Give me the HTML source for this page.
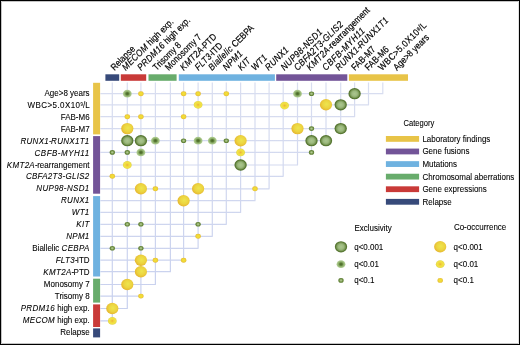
<!DOCTYPE html>
<html><head><meta charset="utf-8"><style>
html,body{margin:0;padding:0;background:#fff;}
body{width:520px;height:345px;overflow:hidden;position:relative;}
svg{position:absolute;left:0;top:0;will-change:transform;}
text{font-family:"Liberation Sans",sans-serif;fill:#000;stroke:#000;stroke-width:0.08px;}
tspan[font-style]{letter-spacing:0.3px;}
text.r{stroke-width:0.17px;}
</style></head><body>
<svg width="520" height="345" viewBox="0 0 520 345">
<defs>
<radialGradient id="gb" cx="50%" cy="50%" r="50%">
 <stop offset="0" stop-color="#abc68f"/><stop offset="0.45" stop-color="#9cb97e"/><stop offset="0.7" stop-color="#7d9c5a"/><stop offset="0.85" stop-color="#5b7b36"/><stop offset="1" stop-color="#4f6f2b"/>
</radialGradient>
<radialGradient id="gm" cx="50%" cy="50%" r="50%">
 <stop offset="0" stop-color="#466526"/><stop offset="0.3" stop-color="#5a7b36"/><stop offset="0.6" stop-color="#8fb16c"/><stop offset="0.85" stop-color="#a8c689"/><stop offset="1" stop-color="#b0cb93"/>
</radialGradient>
<radialGradient id="gs" cx="50%" cy="50%" r="50%">
 <stop offset="0" stop-color="#b2ca92"/><stop offset="0.35" stop-color="#9cb878"/><stop offset="0.65" stop-color="#6e8e42"/><stop offset="1" stop-color="#5c7c33"/>
</radialGradient>
<radialGradient id="yb" cx="55%" cy="45%" r="55%">
 <stop offset="0" stop-color="#eee54e"/><stop offset="0.6" stop-color="#ecd440"/><stop offset="0.9" stop-color="#e8bf34"/><stop offset="1" stop-color="#e4b530"/>
</radialGradient>
<radialGradient id="ym" cx="50%" cy="50%" r="50%">
 <stop offset="0" stop-color="#eeae3a"/><stop offset="0.35" stop-color="#f0d63e"/><stop offset="0.75" stop-color="#f2e444"/><stop offset="1" stop-color="#ddd04c"/>
</radialGradient>
<radialGradient id="ys" cx="50%" cy="50%" r="50%">
 <stop offset="0" stop-color="#f2e23c"/><stop offset="0.6" stop-color="#f0d634"/><stop offset="0.88" stop-color="#e8c436"/><stop offset="1" stop-color="#e0b83a"/>
</radialGradient>
<linearGradient id="gl" gradientUnits="userSpaceOnUse" x1="0" y1="83" x2="0" y2="330">
 <stop offset="0" stop-color="#d9def0"/><stop offset="1" stop-color="#c6cfee"/>
</linearGradient>
</defs>
<path d="M518.5,1V344" stroke="#e2e2e2" stroke-width="1" fill="none"/>
<path d="M518,1.5H1.5V343.5H518" stroke="#c4c4c4" stroke-width="1" fill="none"/>
<rect x="0.5" y="0.5" width="519" height="344" fill="none" stroke="#000" stroke-width="1"/>

<path d="M112.30,82.6V320.90H100.4 M127.30,82.6V308.50H100.4 M140.90,82.6V296.10H100.4 M155.40,82.6V284.50H100.4 M170.40,82.6V271.70H100.4 M183.60,82.6V260.20H100.4 M198.10,82.6V248.30H100.4 M212.30,82.6V236.30H100.4 M226.30,82.6V224.30H100.4 M240.60,82.6V212.40H100.4 M255.00,82.6V200.70H100.4 M269.10,82.6V188.80H100.4 M283.20,82.6V176.30H100.4 M297.50,82.6V165.00H100.4 M311.50,82.6V152.40H100.4 M326.00,82.6V140.70H100.4 M340.70,82.6V128.60H100.4 M354.60,82.6V116.70H100.4 M368.50,82.6V104.80H100.4 M382.80,82.6V93.70H100.4" fill="none" stroke="url(#gl)" stroke-width="1.2" stroke-linejoin="round"/>
<rect x="105.4" y="74.3" width="13.80" height="6.50" fill="#374a7a"/>
<rect x="120.8" y="74.3" width="25.40" height="6.50" fill="#c93a38"/>
<rect x="148.5" y="74.3" width="28.10" height="6.50" fill="#68ac6c"/>
<rect x="178.8" y="74.3" width="96.10" height="6.50" fill="#6fb2e0"/>
<rect x="276.2" y="74.3" width="71.10" height="6.50" fill="#735498"/>
<rect x="348.9" y="74.3" width="59.10" height="6.50" fill="#e8c448"/>
<rect x="93.1" y="82.8" width="7.00" height="51.60" fill="#e8c448"/>
<rect x="93.1" y="136.1" width="7.00" height="57.60" fill="#735498"/>
<rect x="93.1" y="196.1" width="7.00" height="80.40" fill="#6fb2e0"/>
<rect x="93.1" y="278.7" width="7.00" height="23.90" fill="#68ac6c"/>
<rect x="93.1" y="304.4" width="7.00" height="22.60" fill="#c93a38"/>
<rect x="93.1" y="328.4" width="7.00" height="9.00" fill="#374a7a"/>
<ellipse cx="127.30" cy="93.70" rx="4.4" ry="3.9" fill="url(#gm)"/>
<ellipse cx="140.90" cy="93.70" rx="2.75" ry="2.45" fill="url(#ys)"/>
<ellipse cx="183.60" cy="93.70" rx="2.75" ry="2.45" fill="url(#ys)"/>
<ellipse cx="198.10" cy="93.70" rx="2.75" ry="2.45" fill="url(#ys)"/>
<ellipse cx="226.30" cy="93.70" rx="2.75" ry="2.45" fill="url(#ys)"/>
<ellipse cx="297.50" cy="93.70" rx="4.4" ry="3.9" fill="url(#gm)"/>
<ellipse cx="311.50" cy="93.70" rx="2.65" ry="2.3" fill="url(#gs)"/>
<ellipse cx="354.60" cy="93.70" rx="6.15" ry="5.65" fill="url(#gb)"/>
<ellipse cx="198.10" cy="104.80" rx="4.4" ry="3.9" fill="url(#ym)"/>
<ellipse cx="284.60" cy="105.60" rx="4.4" ry="3.9" fill="url(#ym)"/>
<ellipse cx="326.00" cy="104.80" rx="6.1" ry="5.7" fill="url(#yb)"/>
<ellipse cx="340.70" cy="104.80" rx="6.15" ry="5.65" fill="url(#gb)"/>
<ellipse cx="127.30" cy="116.70" rx="2.75" ry="2.45" fill="url(#ys)"/>
<ellipse cx="140.90" cy="116.70" rx="2.75" ry="2.45" fill="url(#ys)"/>
<ellipse cx="183.60" cy="116.70" rx="2.75" ry="2.45" fill="url(#ys)"/>
<ellipse cx="127.30" cy="128.60" rx="6.1" ry="5.7" fill="url(#yb)"/>
<ellipse cx="297.50" cy="128.60" rx="6.1" ry="5.7" fill="url(#yb)"/>
<ellipse cx="311.50" cy="128.60" rx="2.65" ry="2.3" fill="url(#gs)"/>
<ellipse cx="340.70" cy="128.60" rx="6.15" ry="5.65" fill="url(#gb)"/>
<ellipse cx="127.30" cy="140.70" rx="6.15" ry="5.65" fill="url(#gb)"/>
<ellipse cx="140.90" cy="140.70" rx="6.15" ry="5.65" fill="url(#gb)"/>
<ellipse cx="155.40" cy="140.70" rx="4.4" ry="3.9" fill="url(#gm)"/>
<ellipse cx="183.60" cy="140.70" rx="2.65" ry="2.3" fill="url(#gs)"/>
<ellipse cx="198.10" cy="140.70" rx="4.4" ry="3.9" fill="url(#gm)"/>
<ellipse cx="212.30" cy="140.70" rx="4.4" ry="3.9" fill="url(#gm)"/>
<ellipse cx="226.30" cy="140.70" rx="2.65" ry="2.3" fill="url(#gs)"/>
<ellipse cx="240.60" cy="140.70" rx="6.1" ry="5.7" fill="url(#yb)"/>
<ellipse cx="311.50" cy="140.70" rx="6.15" ry="5.65" fill="url(#gb)"/>
<ellipse cx="326.00" cy="140.70" rx="6.15" ry="5.65" fill="url(#gb)"/>
<ellipse cx="112.30" cy="152.40" rx="2.65" ry="2.3" fill="url(#gs)"/>
<ellipse cx="127.30" cy="152.40" rx="2.65" ry="2.3" fill="url(#gs)"/>
<ellipse cx="140.90" cy="152.40" rx="4.4" ry="3.9" fill="url(#gm)"/>
<ellipse cx="240.60" cy="152.40" rx="4.4" ry="3.9" fill="url(#ym)"/>
<ellipse cx="311.50" cy="152.40" rx="2.65" ry="2.3" fill="url(#gs)"/>
<ellipse cx="127.30" cy="165.00" rx="4.4" ry="3.9" fill="url(#ym)"/>
<ellipse cx="240.60" cy="165.00" rx="6.15" ry="5.65" fill="url(#gb)"/>
<ellipse cx="112.30" cy="176.30" rx="2.75" ry="2.45" fill="url(#ys)"/>
<ellipse cx="140.90" cy="188.80" rx="6.1" ry="5.7" fill="url(#yb)"/>
<ellipse cx="155.40" cy="188.80" rx="2.75" ry="2.45" fill="url(#ys)"/>
<ellipse cx="198.10" cy="188.80" rx="6.1" ry="5.7" fill="url(#yb)"/>
<ellipse cx="255.00" cy="188.80" rx="2.75" ry="2.45" fill="url(#ys)"/>
<ellipse cx="183.60" cy="200.70" rx="6.1" ry="5.7" fill="url(#yb)"/>
<ellipse cx="127.30" cy="224.30" rx="2.65" ry="2.3" fill="url(#gs)"/>
<ellipse cx="140.90" cy="224.30" rx="2.65" ry="2.3" fill="url(#gs)"/>
<ellipse cx="198.10" cy="224.30" rx="2.65" ry="2.3" fill="url(#gs)"/>
<ellipse cx="198.10" cy="236.30" rx="2.75" ry="2.45" fill="url(#ys)"/>
<ellipse cx="112.30" cy="248.30" rx="2.65" ry="2.3" fill="url(#gs)"/>
<ellipse cx="140.90" cy="248.30" rx="2.65" ry="2.3" fill="url(#gs)"/>
<ellipse cx="140.90" cy="260.20" rx="6.1" ry="5.7" fill="url(#yb)"/>
<ellipse cx="155.40" cy="260.20" rx="2.75" ry="2.45" fill="url(#ys)"/>
<ellipse cx="183.60" cy="260.20" rx="2.75" ry="2.45" fill="url(#ys)"/>
<ellipse cx="140.90" cy="271.70" rx="6.1" ry="5.7" fill="url(#yb)"/>
<ellipse cx="127.30" cy="284.50" rx="6.1" ry="5.7" fill="url(#yb)"/>
<ellipse cx="140.90" cy="296.10" rx="2.75" ry="2.45" fill="url(#ys)"/>
<ellipse cx="112.30" cy="308.50" rx="6.1" ry="5.7" fill="url(#yb)"/>
<ellipse cx="112.30" cy="320.90" rx="4.4" ry="3.9" fill="url(#ym)"/>
<text transform="translate(89.60,95.75) scale(1,1.12)" font-size="8" text-anchor="end">Age&gt;8 years</text>
<text transform="translate(89.60,107.71) scale(1,1.12)" font-size="8" text-anchor="end"><tspan letter-spacing="0.42">WBC&gt;5.0X10</tspan><tspan font-size="4.2" dy="-1.9">9</tspan><tspan dy="1.9" dx="0.2">/L</tspan></text>
<text transform="translate(89.60,119.67) scale(1,1.12)" font-size="8" text-anchor="end">FAB-M6</text>
<text transform="translate(89.60,131.63) scale(1,1.12)" font-size="8" text-anchor="end">FAB-M7</text>
<text transform="translate(89.60,143.59) scale(1,1.12)" font-size="8" text-anchor="end"><tspan font-style="italic">RUNX1<tspan letter-spacing="-0.6">-</tspan>RUNX1T1</tspan></text>
<text transform="translate(89.60,155.55) scale(1,1.12)" font-size="8" text-anchor="end"><tspan font-style="italic" style="letter-spacing:0.5px">CBFB-MYH11</tspan></text>
<text transform="translate(89.60,167.51) scale(1,1.12)" font-size="8" text-anchor="end"><tspan font-style="italic">KMT2A</tspan><tspan letter-spacing="-0.5">-</tspan>rearrangement</text>
<text transform="translate(89.60,179.47) scale(1,1.12)" font-size="8" text-anchor="end"><tspan font-style="italic">CBFA2T3-GLIS2</tspan></text>
<text transform="translate(89.60,191.43) scale(1,1.12)" font-size="8" text-anchor="end"><tspan font-style="italic" style="letter-spacing:0.35px">NUP98-NSD1</tspan></text>
<text transform="translate(89.60,203.39) scale(1,1.12)" font-size="8" text-anchor="end"><tspan font-style="italic">RUNX1</tspan></text>
<text transform="translate(89.60,215.35) scale(1,1.12)" font-size="8" text-anchor="end"><tspan font-style="italic">WT1</tspan></text>
<text transform="translate(89.60,227.31) scale(1,1.12)" font-size="8" text-anchor="end"><tspan font-style="italic">KIT</tspan></text>
<text transform="translate(89.60,239.27) scale(1,1.12)" font-size="8" text-anchor="end"><tspan font-style="italic">NPM1</tspan></text>
<text transform="translate(89.60,251.23) scale(1,1.12)" font-size="8" text-anchor="end">Biallelic <tspan font-style="italic">CEBPA</tspan></text>
<text transform="translate(89.60,263.19) scale(1,1.12)" font-size="8" text-anchor="end"><tspan font-style="italic">FLT3</tspan><tspan letter-spacing="-0.9">-</tspan>ITD</text>
<text transform="translate(89.60,275.15) scale(1,1.12)" font-size="8" text-anchor="end"><tspan font-style="italic">KMT2A</tspan><tspan letter-spacing="-0.6">-</tspan>PTD</text>
<text transform="translate(89.60,287.11) scale(1,1.12)" font-size="8" text-anchor="end">Monosomy 7</text>
<text transform="translate(89.60,299.07) scale(1,1.12)" font-size="8" text-anchor="end">Trisomy 8</text>
<text transform="translate(89.60,311.03) scale(1,1.12)" font-size="8" text-anchor="end"><tspan font-style="italic">PRDM16</tspan> high exp.</text>
<text transform="translate(89.60,322.99) scale(1,1.12)" font-size="8" text-anchor="end"><tspan font-style="italic">MECOM</tspan> high exp.</text>
<text transform="translate(89.60,334.95) scale(1,1.12)" font-size="8" text-anchor="end">Relapse</text>
<text class="r" transform="translate(114.40,70.9) rotate(-45) scale(1,1.15)" font-size="8.2">Relapse</text>
<text class="r" transform="translate(125.70,70.9) rotate(-45) scale(1,1.15)" font-size="8.2"><tspan font-style="italic">MECOM</tspan> high exp.</text>
<text class="r" transform="translate(141.00,70.9) rotate(-45) scale(1,1.15)" font-size="8.2"><tspan font-style="italic">PRDM16</tspan> high exp.</text>
<text class="r" transform="translate(156.60,70.9) rotate(-45) scale(1,1.15)" font-size="8.2">Trisomy 8</text>
<text class="r" transform="translate(168.70,70.9) rotate(-45) scale(1,1.15)" font-size="8.2">Monosomy 7</text>
<text class="r" transform="translate(183.80,70.9) rotate(-45) scale(1,1.15)" font-size="8.2"><tspan font-style="italic">KMT2A</tspan><tspan letter-spacing="-0.6">-</tspan>PTD</text>
<text class="r" transform="translate(198.60,70.9) rotate(-45) scale(1,1.15)" font-size="8.2"><tspan font-style="italic">FLT3</tspan><tspan letter-spacing="-0.9">-</tspan>ITD</text>
<text class="r" transform="translate(212.10,70.9) rotate(-45) scale(1,1.15)" font-size="8.2"><tspan font-style="italic">Biallelic</tspan> CEBPA</text>
<text class="r" transform="translate(226.50,70.9) rotate(-45) scale(1,1.15)" font-size="8.2"><tspan font-style="italic">NPM1</tspan></text>
<text class="r" transform="translate(241.60,70.9) rotate(-45) scale(1,1.15)" font-size="8.2"><tspan font-style="italic">KIT</tspan></text>
<text class="r" transform="translate(255.00,70.9) rotate(-45) scale(1,1.15)" font-size="8.2"><tspan font-style="italic">WT1</tspan></text>
<text class="r" transform="translate(268.80,70.9) rotate(-45) scale(1,1.15)" font-size="8.2"><tspan font-style="italic">RUNX1</tspan></text>
<text class="r" transform="translate(284.60,70.9) rotate(-45) scale(1,1.15)" font-size="8.2"><tspan font-style="italic" style="letter-spacing:0.35px">NUP98-NSD1</tspan></text>
<text class="r" transform="translate(297.70,70.9) rotate(-45) scale(1,1.15)" font-size="8.2"><tspan font-style="italic">CBFA2T3-GLIS2</tspan></text>
<text class="r" transform="translate(310.30,70.9) rotate(-45) scale(1,1.15)" font-size="8.2"><tspan font-style="italic">KMT2A</tspan><tspan letter-spacing="-0.5">-</tspan>rearrangement</text>
<text class="r" transform="translate(326.00,70.9) rotate(-45) scale(1,1.15)" font-size="8.2"><tspan font-style="italic" style="letter-spacing:0.5px">CBFB-MYH11</tspan></text>
<text class="r" transform="translate(339.00,70.9) rotate(-45) scale(1,1.15)" font-size="8.2"><tspan font-style="italic">RUNX1<tspan letter-spacing="-0.6">-</tspan>RUNX1T1</tspan></text>
<text class="r" transform="translate(355.10,70.9) rotate(-45) scale(1,1.15)" font-size="8.2">FAB-M7</text>
<text class="r" transform="translate(368.60,70.9) rotate(-45) scale(1,1.15)" font-size="8.2">FAB-M6</text>
<text class="r" transform="translate(382.00,70.9) rotate(-45) scale(1,1.15)" font-size="8.2"><tspan letter-spacing="0.42">WBC&gt;5.0X10</tspan><tspan font-size="4.2" dy="-1.9">9</tspan><tspan dy="1.9" dx="0.2">/L</tspan></text>
<text class="r" transform="translate(396.90,70.9) rotate(-45) scale(1,1.15)" font-size="8.2">Age&gt;8 years</text>
<text transform="translate(403.50,126.10) scale(1,1.12)" font-size="7.6">Category</text>
<rect x="385.9" y="136.00" width="33.2" height="5.8" fill="#e8c448"/>
<text transform="translate(422.40,141.80) scale(1,1.12)" font-size="8">Laboratory findings</text>
<rect x="385.9" y="148.58" width="33.2" height="5.8" fill="#735498"/>
<text transform="translate(422.40,154.38) scale(1,1.12)" font-size="8">Gene fusions</text>
<rect x="385.9" y="161.16" width="33.2" height="5.8" fill="#6fb2e0"/>
<text transform="translate(422.40,166.96) scale(1,1.12)" font-size="8">Mutations</text>
<rect x="385.9" y="173.74" width="33.2" height="5.8" fill="#68ac6c"/>
<text transform="translate(422.40,179.54) scale(1,1.12)" font-size="8">Chromosomal aberrations</text>
<rect x="385.9" y="186.32" width="33.2" height="5.8" fill="#c93a38"/>
<text transform="translate(422.40,192.12) scale(1,1.12)" font-size="8">Gene expressions</text>
<rect x="385.9" y="198.90" width="33.2" height="5.8" fill="#374a7a"/>
<text transform="translate(422.40,204.70) scale(1,1.12)" font-size="8">Relapse</text>
<text transform="translate(354.40,230.60) scale(1,1.12)" font-size="8">Exclusivity</text>
<text transform="translate(453.90,230.40) scale(1,1.12)" font-size="8">Co-occurrence</text>
<ellipse cx="341.00" cy="246.80" rx="6.15" ry="5.65" fill="url(#gb)"/>
<text transform="translate(354.20,250.20) scale(1,1.12)" font-size="8">q&lt;0.001</text>
<ellipse cx="440.20" cy="246.80" rx="6.1" ry="5.7" fill="url(#yb)"/>
<text transform="translate(453.60,250.20) scale(1,1.12)" font-size="8">q&lt;0.001</text>
<ellipse cx="341.00" cy="264.20" rx="4.4" ry="3.9" fill="url(#gm)"/>
<text transform="translate(354.20,267.20) scale(1,1.12)" font-size="8">q&lt;0.01</text>
<ellipse cx="440.20" cy="264.20" rx="4.4" ry="3.9" fill="url(#ym)"/>
<text transform="translate(453.60,267.20) scale(1,1.12)" font-size="8">q&lt;0.01</text>
<ellipse cx="341.00" cy="280.40" rx="2.65" ry="2.3" fill="url(#gs)"/>
<text transform="translate(354.20,283.20) scale(1,1.12)" font-size="8">q&lt;0.1</text>
<ellipse cx="440.20" cy="280.40" rx="2.75" ry="2.45" fill="url(#ys)"/>
<text transform="translate(453.60,283.20) scale(1,1.12)" font-size="8">q&lt;0.1</text>
</svg>
</body></html>
